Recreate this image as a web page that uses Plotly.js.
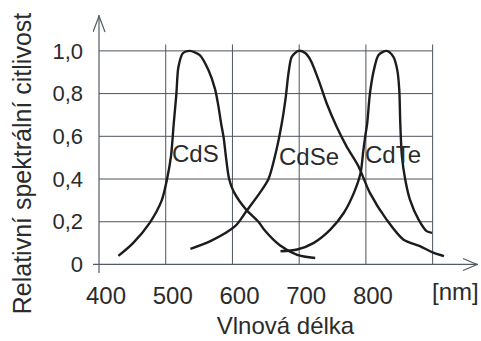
<!DOCTYPE html>
<html>
<head>
<meta charset="utf-8">
<script src="https://cdn.plot.ly/plotly-3.0.1.min.js"></script>
<style>
  html, body { margin: 0; padding: 0; background: #ffffff; }
  #chart { width: 481px; height: 341px; }
</style>
</head>
<body>
<div id="chart"></div>
<script>
// Spectral sensitivity curves (wavelength in nm, relative sensitivity)
const cdsNm = [429, 451, 476, 494, 502, 508, 512, 516, 519, 526, 536, 551, 564, 574, 579, 583, 587, 590, 595, 602, 621, 639, 647, 671, 697, 724];
const cdsVal = [0.04, 0.10, 0.195, 0.30, 0.40, 0.51, 0.66, 0.80, 0.925, 0.99, 1.0, 0.98, 0.91, 0.82, 0.74, 0.66, 0.59, 0.51, 0.40, 0.34, 0.255, 0.20, 0.165, 0.09, 0.045, 0.03];

const cdseNm = [537, 567, 604, 621, 641, 654, 666, 674, 680, 684, 689, 699, 709, 717, 729, 741, 756, 771, 789, 806, 831, 856, 881, 901, 917];
const cdseVal = [0.073, 0.109, 0.179, 0.25, 0.335, 0.40, 0.537, 0.662, 0.786, 0.896, 0.973, 1.0, 0.99, 0.957, 0.864, 0.756, 0.646, 0.553, 0.459, 0.335, 0.21, 0.117, 0.086, 0.055, 0.039];

const cdteNm = [672, 697, 722, 747, 767, 782, 792, 796, 799, 802, 806, 812, 819, 831, 841, 847, 850, 851.5, 854, 859, 866, 879, 891, 899];
const cdteVal = [0.062, 0.07, 0.101, 0.164, 0.242, 0.335, 0.428, 0.53, 0.60, 0.662, 0.80, 0.911, 0.981, 1.0, 0.973, 0.911, 0.818, 0.662, 0.506, 0.397, 0.304, 0.21, 0.156, 0.148];

// Curve labels and their anchor points
const labelText = ['CdS', 'CdSe', 'CdTe'];
const labelNm = [544, 715, 840];
const labelVal = [0.52, 0.506, 0.514];

// Axis ticks
const xTickVals = [400, 500, 600, 700, 800];
const xTickText = ['400', '500', '600', '700', '800'];
const yTickVals = [0, 0.2, 0.4, 0.6, 0.8, 1.0];
const yTickText = ['0', '0,2', '0,4', '0,6', '0,8', '1,0'];

// Grid positions
const gridNm = [500, 600, 700, 800, 900];
const gridVal = [0.2, 0.4, 0.6, 0.8, 1.0];

const xMin = 391, xMax = 968, yMin = -0.04, yMax = 1.168;
const xOrigin = 400, xGridEnd = 900, yGridTop = 1.03;

const lineColor = '#1c1c1c';
const gridColor = '#4d545c';
const axisColor = '#555b66';
const textColor = '#2b2b2b';
const font = 'Liberation Sans, Arial, sans-serif';

function curve(x, y, name) {
  return {
    x: x, y: y, name: name, type: 'scatter', mode: 'lines',
    line: { color: lineColor, width: 2.4, shape: 'spline', smoothing: 0.8 },
    hoverinfo: 'skip'
  };
}

const traces = [
  curve(cdsNm, cdsVal, 'CdS'),
  curve(cdseNm, cdseVal, 'CdSe'),
  curve(cdteNm, cdteVal, 'CdTe')
];

const shapes = [];
// horizontal grid lines
gridVal.forEach(v => shapes.push({
  type: 'line', xref: 'x', yref: 'y', x0: xOrigin, x1: xGridEnd, y0: v, y1: v,
  line: { color: gridColor, width: 1 }, layer: 'below'
}));
// vertical grid lines
gridNm.forEach(n => shapes.push({
  type: 'line', xref: 'x', yref: 'y', x0: n, x1: n, y0: 0, y1: yGridTop,
  line: { color: gridColor, width: 1 }, layer: 'below'
}));
// axes
shapes.push({ type: 'line', xref: 'x', yref: 'y', x0: xOrigin, x1: xOrigin, y0: yMin, y1: yMax,
  line: { color: axisColor, width: 1.2 }, layer: 'below' });
shapes.push({ type: 'line', xref: 'x', yref: 'y', x0: xMin, x1: xMax, y0: 0, y1: 0,
  line: { color: axisColor, width: 1.2 }, layer: 'below' });
// open arrowheads at the axis ends (pixel offsets around the tip)
shapes.push({ type: 'path', xref: 'x', yref: 'y', xsizemode: 'pixel', ysizemode: 'pixel',
  xanchor: xOrigin, yanchor: yMax, path: 'M -6 -17 L 0 -1 L 6 -17',
  line: { color: axisColor, width: 1.2 } });
shapes.push({ type: 'path', xref: 'x', yref: 'y', xsizemode: 'pixel', ysizemode: 'pixel',
  xanchor: xMax, yanchor: 0, path: 'M -15 6 L -1 0 L -15 -6',
  line: { color: axisColor, width: 1.2 } });

const annotations = labelText.map((t, i) => ({
  x: labelNm[i], y: labelVal[i], xref: 'x', yref: 'y', text: t, showarrow: false,
  font: { family: font, size: 24, color: textColor }, bgcolor: 'rgba(255,255,255,0)'
}));
// unit label at the end of the wavelength axis
annotations.push({
  x: 935, y: 0, xref: 'x', yref: 'y', yshift: -27, text: '[nm]', showarrow: false,
  font: { family: font, size: 24, color: textColor }
});
// vertical axis title, set lower than the plot centre
annotations.push({
  x: -0.184, y: 0.426, xref: 'paper', yref: 'paper', text: 'Relativní spektrální citlivost',
  textangle: -90, showarrow: false, xanchor: 'center', yanchor: 'middle',
  font: { family: font, size: 25, color: textColor }
});

const layout = {
  width: 481, height: 341,
  margin: { l: 93, r: 3, t: 15, b: 68 },
  paper_bgcolor: '#ffffff', plot_bgcolor: '#ffffff',
  showlegend: false,
  font: { family: font, color: textColor },
  xaxis: {
    range: [xMin, xMax], showgrid: false, zeroline: false, showline: false,
    tickmode: 'array', tickvals: xTickVals, ticktext: xTickText,
    ticks: '', ticklabelshift: 7, ticklabelstandoff: 6,
    tickfont: { family: font, size: 24, color: textColor },
    title: { text: 'Vlnová délka', font: { family: font, size: 24, color: textColor }, standoff: 9 },
    automargin: false, fixedrange: true
  },
  yaxis: {
    range: [yMin, yMax], showgrid: false, zeroline: false, showline: false,
    tickmode: 'array', tickvals: yTickVals, ticktext: yTickText,
    ticks: '', ticklabelstandoff: 9,
    tickfont: { family: font, size: 22, color: textColor },
    automargin: false, fixedrange: true
  },
  shapes: shapes,
  annotations: annotations
};

Plotly.newPlot('chart', traces, layout, { staticPlot: true, displayModeBar: false });
</script>
</body>
</html>
